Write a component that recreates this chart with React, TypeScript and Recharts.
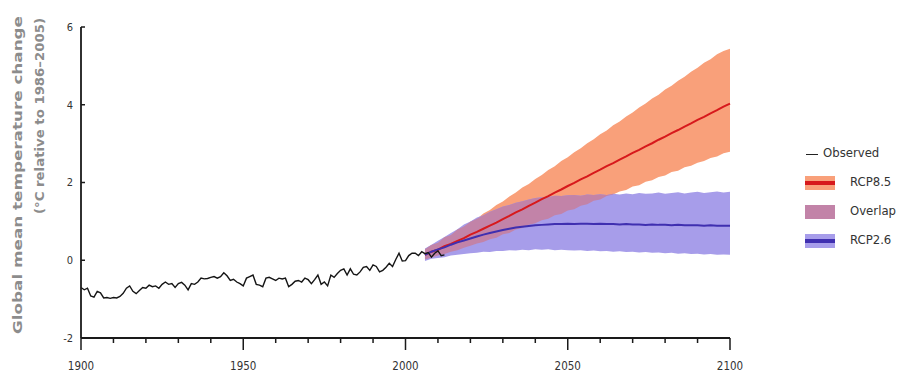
import { ComposedChart, Line, Area, XAxis, YAxis } from "recharts";

const FONT = '"Liberation Sans Narrow", "DejaVu Sans Condensed", "Liberation Sans", sans-serif';

// observed annual anomaly, one value per year from 1900
const OBS_START = 1900;
const observed = [
  -0.70, -0.76, -0.72, -0.92, -0.95, -0.80, -0.84, -0.97, -0.96, -0.98,
  -0.96, -0.97, -0.93, -0.85, -0.72, -0.66, -0.80, -0.86, -0.78, -0.70,
  -0.72, -0.64, -0.68, -0.66, -0.72, -0.62, -0.56, -0.62, -0.60, -0.70,
  -0.60, -0.57, -0.64, -0.76, -0.60, -0.62, -0.56, -0.46, -0.48, -0.47,
  -0.44, -0.42, -0.46, -0.42, -0.32, -0.40, -0.52, -0.49, -0.56, -0.60,
  -0.66, -0.46, -0.42, -0.38, -0.62, -0.64, -0.68, -0.46, -0.44, -0.48,
  -0.52, -0.46, -0.48, -0.46, -0.68, -0.62, -0.54, -0.52, -0.56, -0.46,
  -0.50, -0.60, -0.50, -0.38, -0.62, -0.56, -0.66, -0.38, -0.44, -0.34,
  -0.26, -0.22, -0.38, -0.22, -0.36, -0.38, -0.30, -0.18, -0.16, -0.26,
  -0.12, -0.16, -0.30, -0.26, -0.18, -0.08, -0.16, 0.02, 0.18, -0.02,
  -0.01, 0.12, 0.18, 0.18, 0.12, 0.22, 0.17, 0.20, 0.08, 0.18,
  0.24, 0.12, 0.14,
];

// projections, every 2 years from 2006 to 2100
const PROJ_START = 2006;
const PROJ_STEP = 2;
const rcp85Mean = [
  0.14, 0.22, 0.27, 0.36, 0.42, 0.50, 0.57, 0.66, 0.73, 0.81,
  0.89, 0.97, 1.06, 1.14, 1.23, 1.31, 1.40, 1.48, 1.57, 1.65,
  1.74, 1.82, 1.91, 1.99, 2.08, 2.16, 2.25, 2.33, 2.42, 2.50,
  2.59, 2.67, 2.76, 2.84, 2.93, 3.01, 3.10, 3.18, 3.27, 3.35,
  3.44, 3.52, 3.61, 3.69, 3.78, 3.86, 3.95, 4.03,
];
const rcp85Upper = [
  0.28, 0.39, 0.45, 0.59, 0.65, 0.79, 0.87, 0.99, 1.07, 1.20,
  1.29, 1.42, 1.51, 1.64, 1.74, 1.87, 1.96, 2.09, 2.19, 2.32,
  2.42, 2.55, 2.65, 2.78, 2.88, 3.01, 3.11, 3.24, 3.34, 3.47,
  3.57, 3.70, 3.80, 3.93, 4.03, 4.16, 4.26, 4.39, 4.49, 4.62,
  4.72, 4.85, 4.95, 5.08, 5.17, 5.30, 5.38, 5.44,
];
const rcp85Lower = [
  0.02, 0.07, 0.12, 0.16, 0.22, 0.26, 0.32, 0.37, 0.43, 0.47,
  0.54, 0.58, 0.67, 0.70, 0.79, 0.83, 0.91, 0.95, 1.03, 1.07,
  1.16, 1.19, 1.28, 1.31, 1.40, 1.44, 1.53, 1.56, 1.65, 1.69,
  1.77, 1.81, 1.90, 1.93, 2.02, 2.06, 2.14, 2.18, 2.27, 2.30,
  2.39, 2.43, 2.51, 2.55, 2.63, 2.67, 2.75, 2.79,
];
const rcp26Mean = [
  0.14, 0.22, 0.28, 0.33, 0.40, 0.46, 0.51, 0.56, 0.61, 0.66,
  0.70, 0.74, 0.78, 0.81, 0.84, 0.86, 0.88, 0.90, 0.91, 0.92,
  0.93, 0.93, 0.94, 0.93, 0.94, 0.94, 0.93, 0.94, 0.93, 0.93,
  0.92, 0.93, 0.92, 0.92, 0.91, 0.92, 0.91, 0.91, 0.90, 0.91,
  0.90, 0.90, 0.90, 0.89, 0.90, 0.89, 0.89, 0.89,
];
const rcp26Upper = [
  0.30, 0.40, 0.50, 0.60, 0.70, 0.80, 0.92, 1.00, 1.10, 1.16,
  1.25, 1.31, 1.38, 1.42, 1.48, 1.52, 1.56, 1.60, 1.62, 1.63,
  1.66, 1.65, 1.67, 1.68, 1.66, 1.69, 1.68, 1.70, 1.68, 1.71,
  1.69, 1.72, 1.70, 1.73, 1.71, 1.72, 1.74, 1.71, 1.73, 1.75,
  1.72, 1.74, 1.76, 1.73, 1.75, 1.77, 1.74, 1.76,
];
const rcp26Lower = [
  -0.02, 0.04, 0.06, 0.08, 0.12, 0.14, 0.16, 0.18, 0.19, 0.22,
  0.21, 0.24, 0.24, 0.26, 0.25, 0.27, 0.26, 0.28, 0.27, 0.28,
  0.26, 0.27, 0.26, 0.25, 0.26, 0.24, 0.25, 0.23, 0.24, 0.22,
  0.23, 0.21, 0.22, 0.20, 0.21, 0.19, 0.20, 0.18, 0.19, 0.17,
  0.18, 0.16, 0.17, 0.15, 0.16, 0.14, 0.15, 0.14,
];

const yTicks = [-2, 0, 2, 4, 6];
const xTicks = [
  1900, 1910, 1920, 1930, 1940, 1950, 1960, 1970, 1980, 1990,
  2000, 2010, 2020, 2030, 2040, 2050, 2060, 2070, 2080, 2090, 2100,
];

const obsData = observed.map((v, i) => ({ year: OBS_START + i, obs: v }));
const projData = rcp85Mean.map((m, i) => {
  // where the two ranges share values
  const lo = Math.max(rcp85Lower[i], rcp26Lower[i]);
  const hi = Math.min(rcp85Upper[i], rcp26Upper[i]);
  return {
    year: PROJ_START + i * PROJ_STEP,
    mean85: m,
    band85: [rcp85Lower[i], rcp85Upper[i]],
    mean26: rcp26Mean[i],
    band26: [rcp26Lower[i], rcp26Upper[i]],
    overlap: lo < hi ? [lo, hi] : null,
  };
});

const AXIS = "#1a1a1a";
const ORANGE = "#F9A07A";
const LAVENDER = "#A79DEA";
const MAUVE = "#C283A8";
const RED = "#D7191C";
const BLUE = "#3F2FB0";

function XTick(props: any) {
  const { x, y, payload } = props;
  const major = payload.value % 50 === 0;
  return (
    <g>
      <line x1={x} x2={x} y1={y} y2={y + (major ? 12 : 5)} stroke={AXIS} strokeWidth={1.5} />
      {major && (
        <text x={x} y={y + 32} textAnchor="middle" fontSize={11.5} fill="#333" fontFamily={FONT}>
          {payload.value}
        </text>
      )}
    </g>
  );
}

const legendRows = [
  { label: "RCP8.5", top: 183, fill: ORANGE, line: RED },
  { label: "Overlap", top: 212, fill: MAUVE, line: null },
  { label: "RCP2.6", top: 241, fill: LAVENDER, line: BLUE },
];

export default function App() {
  return (
    <div style={{ position: "absolute", left: 0, top: 0, width: 916, height: 376, background: "#fff" }}>
      <ComposedChart width={916} height={376} data={projData} margin={{ top: 27, right: 186, bottom: 0, left: 0 }}>
        <XAxis
          type="number"
          dataKey="year"
          domain={[1900, 2100]}
          ticks={xTicks}
          interval={0}
          height={38}
          axisLine={{ stroke: AXIS, strokeWidth: 1.8 }}
          tickLine={false}
          tickSize={0}
          tickMargin={0}
          tick={(p: any) => <XTick {...p} />}
        />
        <YAxis
          domain={[-2, 6]}
          ticks={yTicks}
          interval={0}
          width={81}
          axisLine={{ stroke: AXIS, strokeWidth: 1.8 }}
          tickLine={{ stroke: AXIS, strokeWidth: 1.5 }}
          tickSize={-4}
          tickMargin={12}
          tick={{ fontSize: 11, fill: "#333", fontFamily: FONT }}
        />
        <YAxis
          yAxisId="r"
          orientation="right"
          domain={[-2, 6]}
          ticks={yTicks}
          interval={0}
          width={0}
          axisLine={{ stroke: AXIS, strokeWidth: 1.8 }}
          tickLine={{ stroke: AXIS, strokeWidth: 1.5 }}
          tickSize={-4}
          tick={false}
        />
        <Area dataKey="band85" stroke="none" fill={ORANGE} fillOpacity={1} isAnimationActive={false} type="linear" />
        <Area dataKey="band26" stroke="none" fill={LAVENDER} fillOpacity={1} isAnimationActive={false} type="linear" />
        <Area dataKey="overlap" stroke="none" fill={MAUVE} fillOpacity={1} isAnimationActive={false} type="linear" />
        <Line dataKey="mean85" stroke={RED} strokeWidth={2} dot={false} isAnimationActive={false} type="linear" />
        <Line dataKey="mean26" stroke={BLUE} strokeWidth={2} dot={false} isAnimationActive={false} type="linear" />
        <Line
          data={obsData}
          dataKey="obs"
          stroke="#151515"
          strokeWidth={1.4}
          dot={false}
          isAnimationActive={false}
          type="linear"
        />
      </ComposedChart>

      {/* rotated y-axis title */}
      <svg width={60} height={376} style={{ position: "absolute", left: 0, top: 0 }}>
        <text
          x={18}
          y={334}
          transform="rotate(-90 18 334)"
          fontSize={13}
          fontWeight="bold"
          fill="#8c8c8c"
          fontFamily='"DejaVu Sans", sans-serif'
          textLength={318}
          lengthAdjust="spacingAndGlyphs"
          dominantBaseline="middle"
        >
          Global mean temperature change
        </text>
        <text
          x={40}
          y={214}
          transform="rotate(-90 40 214)"
          fontSize={13}
          fontWeight="bold"
          fill="#8c8c8c"
          fontFamily='"DejaVu Sans", sans-serif'
          textLength={196}
          lengthAdjust="spacingAndGlyphs"
          dominantBaseline="middle"
        >
          (°C relative to 1986–2005)
        </text>
      </svg>

      {/* legend */}
      <div style={{ position: "absolute", left: 0, top: 0, fontFamily: FONT, fontSize: 13, color: "#333" }}>
        <div style={{ position: "absolute", left: 806, top: 154, width: 12, height: 1, background: "#222" }} />
        <div style={{ position: "absolute", left: 823, top: 145, whiteSpace: "nowrap" }}>Observed</div>
        {legendRows.map((r) => (
          <div key={r.label}>
            <div
              style={{
                position: "absolute",
                left: 805,
                top: r.top - 7,
                width: 30,
                height: 14,
                background: r.fill,
              }}
            />
            {r.line && (
              <div
                style={{ position: "absolute", left: 805, top: r.top - 2, width: 30, height: 4, background: r.line }}
              />
            )}
            <div style={{ position: "absolute", left: 850, top: r.top - 9, whiteSpace: "nowrap" }}>{r.label}</div>
          </div>
        ))}
      </div>
    </div>
  );
}
